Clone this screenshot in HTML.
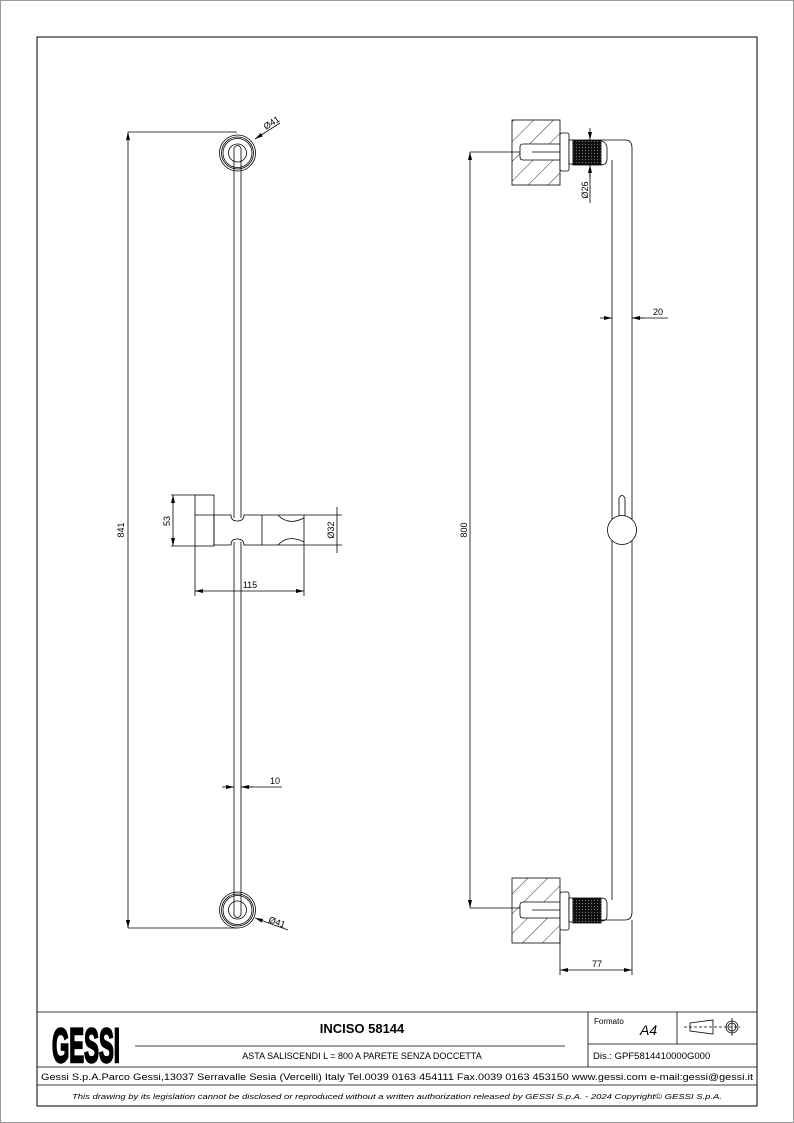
<!DOCTYPE html>
<html><head><meta charset="utf-8"><style>
html,body{margin:0;padding:0;background:#fff;}
svg{display:block;font-family:"Liberation Sans",sans-serif;}
</style></head><body>
<svg width="794" height="1123" viewBox="0 0 794 1123" xmlns="http://www.w3.org/2000/svg">
<defs>
<pattern id="h" width="14" height="14" patternUnits="userSpaceOnUse" patternTransform="rotate(45)"><line x1="0" y1="0" x2="0" y2="14" stroke="#000" stroke-width="0.8"/></pattern>
<pattern id="k" width="3" height="3" patternUnits="userSpaceOnUse"><rect width="3" height="3" fill="#111"/><rect width="1" height="1" fill="#777"/></pattern>
<marker id="a" markerWidth="8" markerHeight="6" refX="8" refY="3" orient="auto-start-reverse" markerUnits="userSpaceOnUse"><path d="M0,1 L8,3 L0,5z" fill="#000"/></marker>
</defs>
<rect x="0.5" y="0.5" width="793" height="1122" fill="none" stroke="#999"/>
<rect x="37" y="37" width="720" height="1069" fill="none" stroke="#000" stroke-width="1"/>
<g stroke="#000" stroke-width="0.8" fill="none">
<line x1="128" y1="132" x2="237" y2="132"/><line x1="128" y1="928" x2="237" y2="928"/>
<line x1="128" y1="132" x2="128" y2="928" marker-start="url(#a)" marker-end="url(#a)"/>
<circle cx="237.5" cy="153" r="18"/><circle cx="237.5" cy="153" r="16"/><circle cx="237.5" cy="153" r="14.5"/><circle cx="237.5" cy="153" r="9"/>
<circle cx="237.5" cy="910" r="18"/><circle cx="237.5" cy="910" r="16"/><circle cx="237.5" cy="910" r="14.5"/><circle cx="237.5" cy="910" r="9"/>
<path d="M234,518 V148 Q237.5,143 241,148 V518"/>
<path d="M234,542 V915 Q237.5,920 241,915 V542"/>
<line x1="255" y1="139" x2="280" y2="123" marker-start="url(#a)"/>
<line x1="255" y1="918" x2="288" y2="930" marker-start="url(#a)"/>
<rect x="195" y="495" width="19" height="51"/><line x1="195" y1="515" x2="214" y2="515"/>
<path d="M214,515 H231 Q231,521 237,521 Q244,521 244,515 H304 M214,545 H231 Q231,539 237,539 Q244,539 244,545 H304 M214,515 V545 M262,515 V545 M304,515 V545"/>
<path d="M278,515 Q288,526 304,518 M278,545 Q288,534 304,542"/>
<line x1="171" y1="495" x2="195" y2="495"/><line x1="171" y1="546" x2="195" y2="546"/>
<line x1="173" y1="495" x2="173" y2="546" marker-start="url(#a)" marker-end="url(#a)"/>
<line x1="304" y1="515" x2="342" y2="515"/><line x1="304" y1="545" x2="342" y2="545"/>
<line x1="337" y1="507" x2="337" y2="553" />
<line x1="195" y1="546" x2="195" y2="596"/><line x1="304" y1="545" x2="304" y2="596"/>
<line x1="195" y1="591" x2="304" y2="591" marker-start="url(#a)" marker-end="url(#a)"/>
<line x1="222" y1="787" x2="234" y2="787" marker-end="url(#a)"/><line x1="253" y1="787" x2="241" y2="787" marker-end="url(#a)"/><line x1="241" y1="787" x2="282" y2="787"/>
<line x1="470" y1="152" x2="520" y2="152"/><line x1="470" y1="908" x2="520" y2="908"/>
<line x1="470" y1="152" x2="470" y2="908" marker-start="url(#a)" marker-end="url(#a)"/>
<rect x="512" y="120" width="48" height="65" fill="url(#h)"/>
<rect x="512" y="878" width="48" height="65" fill="url(#h)"/>
<path d="M520,147 Q520,144 523,144 H560 V160 H523 Q520,160 520,157z" fill="#fff"/>
<path d="M520,905 Q520,902 523,902 H560 V918 H523 Q520,918 520,915z" fill="#fff"/>
<line x1="532" y1="152" x2="560" y2="152"/><line x1="532" y1="910" x2="560" y2="910"/>
<rect x="560" y="133" width="9" height="38" rx="2" fill="#fff"/>
<rect x="560" y="892" width="9" height="38" rx="2" fill="#fff"/>
<rect x="569" y="140" width="4" height="24" fill="#fff"/><rect x="569" y="898" width="4" height="24" fill="#fff"/>
<rect x="573" y="140" width="28" height="25" fill="url(#k)"/>
<rect x="573" y="898" width="28" height="25" fill="url(#k)"/>
<path d="M601,140 H625 Q632,140 632,148 V912 Q632,920 625,920 H601"/>
<path d="M612,160 V900"/>
<path d="M601,141 Q605,141 607,147 V159 Q607,165 601,165 M601,898 Q607,898 607,904 V916 Q607,921 601,921"/>
<circle cx="622" cy="530" r="14.5" fill="#fff"/>
<path d="M619,516 V498 Q622,493 625,498 V516"/>
<line x1="590" y1="128" x2="590" y2="140" marker-end="url(#a)"/><line x1="590" y1="178" x2="590" y2="165" marker-end="url(#a)"/><line x1="590" y1="165" x2="590" y2="203"/>
<line x1="600" y1="318" x2="612" y2="318" marker-end="url(#a)"/><line x1="644" y1="318" x2="632" y2="318" marker-end="url(#a)"/><line x1="632" y1="318" x2="668" y2="318"/>
<line x1="560" y1="935" x2="560" y2="975"/><line x1="632" y1="920" x2="632" y2="975"/>
<line x1="560" y1="970" x2="632" y2="970" marker-start="url(#a)" marker-end="url(#a)"/>
</g>
<g font-size="9" fill="#000">
<text x="124" y="530" transform="rotate(-90 124 530)" text-anchor="middle">841</text>
<text x="170" y="521" transform="rotate(-90 170 521)" text-anchor="middle">53</text>
<text x="334" y="530" transform="rotate(-90 334 530)" text-anchor="middle">Ø32</text>
<text x="250" y="588" text-anchor="middle">115</text>
<text x="270" y="784">10</text>
<text x="266" y="130" transform="rotate(-33 266 130)">Ø41</text>
<text x="268" y="922" transform="rotate(20 268 922)">Ø41</text>
<text x="467" y="530" transform="rotate(-90 467 530)" text-anchor="middle">800</text>
<text x="588" y="190" transform="rotate(-90 588 190)" text-anchor="middle">Ø26</text>
<text x="653" y="315">20</text>
<text x="597" y="967" text-anchor="middle">77</text>
</g>
<g stroke="#000" stroke-width="0.8" fill="none">
<line x1="37" y1="1012" x2="757" y2="1012"/>
<line x1="37" y1="1067" x2="757" y2="1067"/>
<line x1="37" y1="1085" x2="757" y2="1085"/>
<line x1="588" y1="1012" x2="588" y2="1067"/>
<line x1="677" y1="1012" x2="677" y2="1044"/>
<line x1="588" y1="1044" x2="757" y2="1044"/>
<line x1="135" y1="1046" x2="565" y2="1046"/>
<path d="M690,1023 L713,1020 V1034 L690,1031z"/>
<line x1="684" y1="1027" x2="740" y2="1027" stroke-dasharray="3,2"/>
<circle cx="732" cy="1027" r="6"/><circle cx="732" cy="1027" r="4"/>
<line x1="732" y1="1018" x2="732" y2="1036"/>
</g>
<g transform="translate(52,1062) scale(1,1.6)">
<text x="0" y="0" font-size="30" font-weight="bold" textLength="68" lengthAdjust="spacingAndGlyphs" stroke="#000" stroke-width="1.5">GESSI</text>
</g>
<g fill="#000">
<text x="362" y="1033" font-size="13" font-weight="bold" text-anchor="middle">INCISO 58144</text>
<text x="362" y="1059" font-size="9" text-anchor="middle">ASTA SALISCENDI L = 800 A PARETE SENZA DOCCETTA</text>
<text x="594" y="1024" font-size="8">Formato</text>
<text x="640" y="1035" font-size="14" font-style="italic">A4</text>
<text x="593" y="1059" font-size="9.5">Dis.: GPF5814410000G000</text>
<text x="397" y="1080" font-size="9" text-anchor="middle" textLength="712" lengthAdjust="spacingAndGlyphs">Gessi S.p.A.Parco Gessi,13037 Serravalle Sesia (Vercelli) Italy Tel.0039 0163 454111 Fax.0039 0163 453150 www.gessi.com e-mail:gessi@gessi.it</text>
<text x="397" y="1099" font-size="7" font-style="italic" text-anchor="middle" textLength="650" lengthAdjust="spacingAndGlyphs">This drawing by its legislation cannot be disclosed or reproduced without a written authorization released by GESSI S.p.A. - 2024 Copyright© GESSI S.p.A.</text>
</g>
</svg>
</body></html>
